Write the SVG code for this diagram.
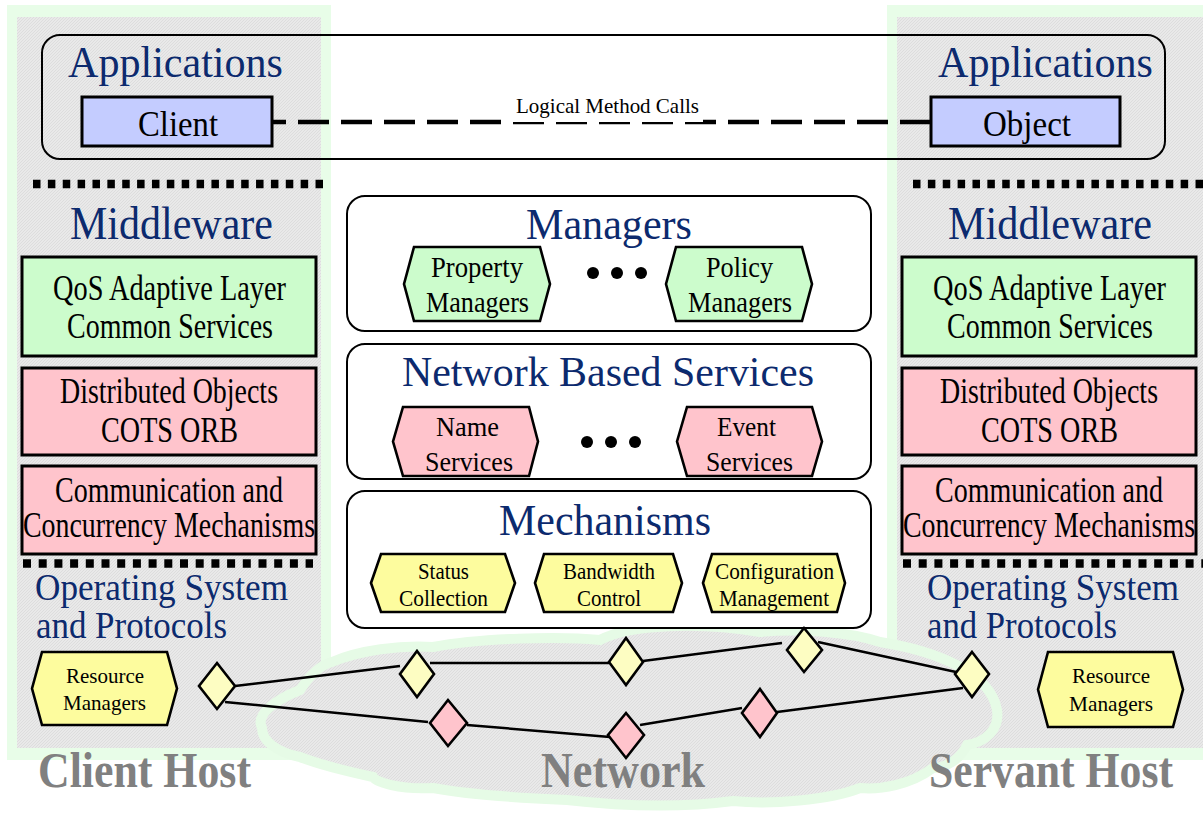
<svg xmlns="http://www.w3.org/2000/svg" width="1203" height="814" viewBox="0 0 1203 814">
  <defs>
    <pattern id="hatch" patternUnits="userSpaceOnUse" width="3" height="3">
      <rect width="3" height="3" fill="#e9e9e9"/>
      <path d="M0 3 L3 0" stroke="#d8d8d8" stroke-width="0.7"/>
    </pattern>
    <style>
      .txt { font-family: "Liberation Serif", "Times New Roman", serif; fill: #000; }
      .title { font-family: "Liberation Serif", "Times New Roman", serif; fill: #0c2a6e; }
      .host { font-family: "Liberation Serif", "Times New Roman", serif; fill: #808080; font-weight: bold; font-size: 50px; }
      .panelOuter { fill: #e8fde8; }
      .panelInner { fill: url(#hatch); }
      .layer { stroke: #000; stroke-width: 3; }
      .green { fill: #ccfccc; }
      .pink { fill: #ffc4cc; }
      .yellow { fill: #fdfc9e; }
      .blue { fill: #c4ccff; }
      .hex { stroke: #000; stroke-width: 2.6; stroke-linejoin: miter; }
      .group { fill: #fff; stroke: #000; stroke-width: 2; }
      .sep { stroke: #000; stroke-width: 8.5; fill: none; }
      .link { stroke: #000; stroke-width: 2.5; fill: none; }
      .dia { stroke: #000; stroke-width: 2.6; stroke-linejoin: miter; }
      .dy { fill: #fdfdc2; }
      .dp { fill: #ffc4cc; }
    </style>
  </defs>

  <rect width="1203" height="814" fill="#fff"/>

  <!-- host panels -->
  <g id="client-host">
    <rect class="panelOuter" x="7" y="5" width="324" height="755"/>
    <rect class="panelInner" x="17" y="17" width="304" height="731"/>
  </g>
  <g id="servant-host">
    <rect class="panelOuter" x="887" y="5" width="316" height="755"/>
    <rect class="panelInner" x="897" y="17" width="306" height="731"/>
  </g>

  <!-- network cloud -->
  <g id="network-cloud">
    <path d="M 332 662 C 360 650, 400 645, 433 647 C 480 638, 560 636, 600 640 C 630 624, 700 622, 760 632 C 800 628, 850 632, 880 642 C 930 650, 990 670, 997 710 C 1000 730, 985 742, 967 745 C 960 760, 945 768, 933 768 C 910 785, 880 790, 860 788 C 830 800, 770 805, 733 801 C 680 808, 620 806, 567 800 C 520 798, 470 795, 433 788 C 400 790, 375 782, 373 777 C 350 772, 320 765, 300 757 C 275 752, 262 740, 262 728 C 255 715, 275 700, 300 690 C 310 675, 320 665, 332 662 Z" fill="url(#hatch)" stroke="#e6fbe6" stroke-width="10"/>
  </g>

  <!-- applications layer -->
  <g id="applications">
    <rect x="42" y="35" width="1123" height="124" rx="18" fill="none" stroke="#000" stroke-width="2"/>
    <text class="title" x="68" y="77" font-size="45" textLength="215" lengthAdjust="spacingAndGlyphs">Applications</text>
    <text class="title" x="938" y="77" font-size="45" textLength="215" lengthAdjust="spacingAndGlyphs">Applications</text>
  </g>

  <!-- connectors -->
  <g id="connectors">
    <line x1="272" y1="122" x2="931" y2="122" stroke="#000" stroke-width="4.5" stroke-dasharray="31 12" stroke-dashoffset="17"/>
    <rect x="513" y="90" width="190" height="32" fill="#fff"/>
    <text class="txt" x="516" y="113" font-size="22" textLength="183" lengthAdjust="spacingAndGlyphs">Logical Method Calls</text>
    <line class="link" x1="235" y1="686" x2="400" y2="666"/>
    <line class="link" x1="430" y1="663" x2="609" y2="663"/>
    <line class="link" x1="643" y1="661" x2="782" y2="643"/>
    <line class="link" x1="818" y1="642" x2="956" y2="672"/>
    <line class="link" x1="225" y1="702" x2="428" y2="722"/>
    <line class="link" x1="467" y1="725" x2="610" y2="737"/>
    <line class="link" x1="640" y1="725" x2="742" y2="708"/>
    <line class="link" x1="777" y1="712" x2="963" y2="688"/>
  </g>

  <g id="client">
    <rect class="blue layer" x="82" y="97" width="190" height="49"/>
    <text class="txt" x="138" y="136" font-size="36" textLength="80" lengthAdjust="spacingAndGlyphs">Client</text>
  </g>
  <g id="object">
    <rect class="blue layer" x="931" y="97" width="189" height="49"/>
    <text class="txt" x="983" y="136" font-size="36" textLength="88" lengthAdjust="spacingAndGlyphs">Object</text>
  </g>

  <!-- layer separators -->
  <g id="separators">
    <line class="sep" x1="33" y1="184" x2="323" y2="184" stroke-dasharray="7.5 7.37"/>
    <line class="sep" x1="913" y1="184" x2="1203" y2="184" stroke-dasharray="7.5 7.37"/>
    <line class="sep" x1="23" y1="563.5" x2="313" y2="563.5" stroke-dasharray="8 7.7"/>
    <line class="sep" x1="903" y1="563.5" x2="1203" y2="563.5" stroke-dasharray="8 7.7"/>
  </g>

  <!-- client middleware stack -->
  <g id="client-middleware">
    <text class="title" x="70" y="239" font-size="46" textLength="203" lengthAdjust="spacingAndGlyphs">Middleware</text>
  </g>
  <g id="client-qos">
    <rect class="green layer" x="22" y="257" width="294" height="99"/>
    <text class="txt" x="53" y="300" font-size="36" textLength="233" lengthAdjust="spacingAndGlyphs">QoS Adaptive Layer</text>
    <text class="txt" x="67" y="338" font-size="36" textLength="206" lengthAdjust="spacingAndGlyphs">Common Services</text>
  </g>
  <g id="client-orb">
    <rect class="pink layer" x="22" y="368" width="294" height="87"/>
    <text class="txt" x="60" y="403" font-size="36" textLength="218" lengthAdjust="spacingAndGlyphs">Distributed Objects</text>
    <text class="txt" x="101" y="442" font-size="36" textLength="137" lengthAdjust="spacingAndGlyphs">COTS ORB</text>
  </g>
  <g id="client-comm">
    <rect class="pink layer" x="22" y="466" width="294" height="88"/>
    <text class="txt" x="55" y="502" font-size="36" textLength="228" lengthAdjust="spacingAndGlyphs">Communication and</text>
    <text class="txt" x="23" y="537" font-size="36" textLength="292" lengthAdjust="spacingAndGlyphs">Concurrency Mechanisms</text>
  </g>
  <g id="client-os">
    <text class="title" x="35" y="600" font-size="38" textLength="253" lengthAdjust="spacingAndGlyphs">Operating System</text>
    <text class="title" x="36" y="638" font-size="38" textLength="191" lengthAdjust="spacingAndGlyphs">and Protocols</text>
  </g>
  <g id="client-resource-managers">
    <polygon class="yellow hex" points="32,688.5 42,652 167,652 177,688.5 167,725 42,725"/>
    <text class="txt" x="66" y="683" font-size="22" textLength="78" lengthAdjust="spacingAndGlyphs">Resource</text>
    <text class="txt" x="63" y="710" font-size="22" textLength="83" lengthAdjust="spacingAndGlyphs">Managers</text>
  </g>

  <!-- servant middleware stack -->
  <g id="servant-middleware">
    <text class="title" x="948" y="239" font-size="46" textLength="204" lengthAdjust="spacingAndGlyphs">Middleware</text>
  </g>
  <g id="servant-qos">
    <rect class="green layer" x="902" y="257" width="294" height="99"/>
    <text class="txt" x="933" y="300" font-size="36" textLength="233" lengthAdjust="spacingAndGlyphs">QoS Adaptive Layer</text>
    <text class="txt" x="947" y="338" font-size="36" textLength="206" lengthAdjust="spacingAndGlyphs">Common Services</text>
  </g>
  <g id="servant-orb">
    <rect class="pink layer" x="902" y="368" width="294" height="87"/>
    <text class="txt" x="940" y="403" font-size="36" textLength="218" lengthAdjust="spacingAndGlyphs">Distributed Objects</text>
    <text class="txt" x="981" y="442" font-size="36" textLength="137" lengthAdjust="spacingAndGlyphs">COTS ORB</text>
  </g>
  <g id="servant-comm">
    <rect class="pink layer" x="902" y="466" width="294" height="88"/>
    <text class="txt" x="935" y="502" font-size="36" textLength="228" lengthAdjust="spacingAndGlyphs">Communication and</text>
    <text class="txt" x="903" y="537" font-size="36" textLength="292" lengthAdjust="spacingAndGlyphs">Concurrency Mechanisms</text>
  </g>
  <g id="servant-os">
    <text class="title" x="927" y="600" font-size="38" textLength="252" lengthAdjust="spacingAndGlyphs">Operating System</text>
    <text class="title" x="927" y="638" font-size="38" textLength="190" lengthAdjust="spacingAndGlyphs">and Protocols</text>
  </g>
  <g id="servant-resource-managers">
    <polygon class="yellow hex" points="1038,689.5 1048,652 1173,652 1183,689.5 1173,727 1048,727"/>
    <text class="txt" x="1072" y="683" font-size="22" textLength="78" lengthAdjust="spacingAndGlyphs">Resource</text>
    <text class="txt" x="1069" y="711" font-size="22" textLength="84" lengthAdjust="spacingAndGlyphs">Managers</text>
  </g>

  <!-- managers -->
  <g id="managers">
    <rect class="group" x="347" y="196" width="524" height="135" rx="18"/>
    <text class="title" x="526" y="239" font-size="45" textLength="166" lengthAdjust="spacingAndGlyphs">Managers</text>
    <circle cx="593" cy="273" r="6"/>
    <circle cx="617" cy="273" r="6"/>
    <circle cx="641" cy="273" r="6"/>
  </g>
  <g id="property-managers">
    <polygon class="green hex" points="404,284 414,247 540,247 550,284 540,321 414,321"/>
    <text class="txt" x="431" y="277" font-size="30" textLength="92" lengthAdjust="spacingAndGlyphs">Property</text>
    <text class="txt" x="426" y="312" font-size="30" textLength="103" lengthAdjust="spacingAndGlyphs">Managers</text>
  </g>
  <g id="policy-managers">
    <polygon class="green hex" points="666,284 676,247 802,247 812,284 802,321 676,321"/>
    <text class="txt" x="706" y="277" font-size="30" textLength="67" lengthAdjust="spacingAndGlyphs">Policy</text>
    <text class="txt" x="688" y="312" font-size="30" textLength="104" lengthAdjust="spacingAndGlyphs">Managers</text>
  </g>

  <!-- network based services -->
  <g id="network-services">
    <rect class="group" x="347" y="344" width="524" height="135" rx="18"/>
    <text class="title" x="402" y="386" font-size="42" textLength="412" lengthAdjust="spacingAndGlyphs">Network Based Services</text>
    <circle cx="587" cy="442" r="6"/>
    <circle cx="611" cy="442" r="6"/>
    <circle cx="635" cy="442" r="6"/>
  </g>
  <g id="name-services">
    <polygon class="pink hex" points="393,441.5 403,407 529,407 538,441.5 529,476 403,476"/>
    <text class="txt" x="436" y="436" font-size="28" textLength="63" lengthAdjust="spacingAndGlyphs">Name</text>
    <text class="txt" x="425" y="471" font-size="28" textLength="88" lengthAdjust="spacingAndGlyphs">Services</text>
  </g>
  <g id="event-services">
    <polygon class="pink hex" points="677,441.5 687,407 812,407 822,441.5 812,476 687,476"/>
    <text class="txt" x="717" y="436" font-size="28" textLength="59" lengthAdjust="spacingAndGlyphs">Event</text>
    <text class="txt" x="706" y="471" font-size="28" textLength="87" lengthAdjust="spacingAndGlyphs">Services</text>
  </g>

  <!-- mechanisms -->
  <g id="mechanisms">
    <rect class="group" x="347" y="491" width="524" height="137" rx="18"/>
    <text class="title" x="499" y="535" font-size="45" textLength="212" lengthAdjust="spacingAndGlyphs">Mechanisms</text>
  </g>
  <g id="status-collection">
    <polygon class="yellow hex" points="371,583 381,554 505,554 515,583 505,612 381,612"/>
    <text class="txt" x="418" y="579" font-size="24" textLength="51" lengthAdjust="spacingAndGlyphs">Status</text>
    <text class="txt" x="399" y="606" font-size="24" textLength="89" lengthAdjust="spacingAndGlyphs">Collection</text>
  </g>
  <g id="bandwidth-control">
    <polygon class="yellow hex" points="535,583 544,554 673,554 682,583 673,612 544,612"/>
    <text class="txt" x="563" y="579" font-size="24" textLength="92" lengthAdjust="spacingAndGlyphs">Bandwidth</text>
    <text class="txt" x="577" y="606" font-size="24" textLength="64" lengthAdjust="spacingAndGlyphs">Control</text>
  </g>
  <g id="configuration-management">
    <polygon class="yellow hex" points="703,583 712,554 837,554 845,583 837,612 712,612"/>
    <text class="txt" x="715" y="579" font-size="24" textLength="119" lengthAdjust="spacingAndGlyphs">Configuration</text>
    <text class="txt" x="719" y="606" font-size="24" textLength="110" lengthAdjust="spacingAndGlyphs">Management</text>
  </g>

  <!-- network nodes -->
  <g id="node-y1"><polygon class="dia dy" points="217,663 235,686 217,709 199,686"/></g>
  <g id="node-y2"><polygon class="dia dy" points="417,651 434,674 417,697 400,674"/></g>
  <g id="node-y3"><polygon class="dia dy" points="626,638 643,662 626,685 609,662"/></g>
  <g id="node-y4"><polygon class="dia dy" points="804,628 822,650 804,672 787,650"/></g>
  <g id="node-y5"><polygon class="dia dy" points="972,652 989,674 972,697 955,674"/></g>
  <g id="node-p1"><polygon class="dia dp" points="448,700 467,723 448,746 430,723"/></g>
  <g id="node-p2"><polygon class="dia dp" points="626,713 644,735 626,758 608,735"/></g>
  <g id="node-p3"><polygon class="dia dp" points="760,689 777,713 760,737 742,713"/></g>

  <!-- host and network labels -->
  <g id="labels">
    <text class="host" x="38" y="787" textLength="213" lengthAdjust="spacingAndGlyphs">Client Host</text>
    <text class="host" x="541" y="787" textLength="164" lengthAdjust="spacingAndGlyphs">Network</text>
    <text class="host" x="929" y="787" textLength="244" lengthAdjust="spacingAndGlyphs">Servant Host</text>
  </g>
</svg>
